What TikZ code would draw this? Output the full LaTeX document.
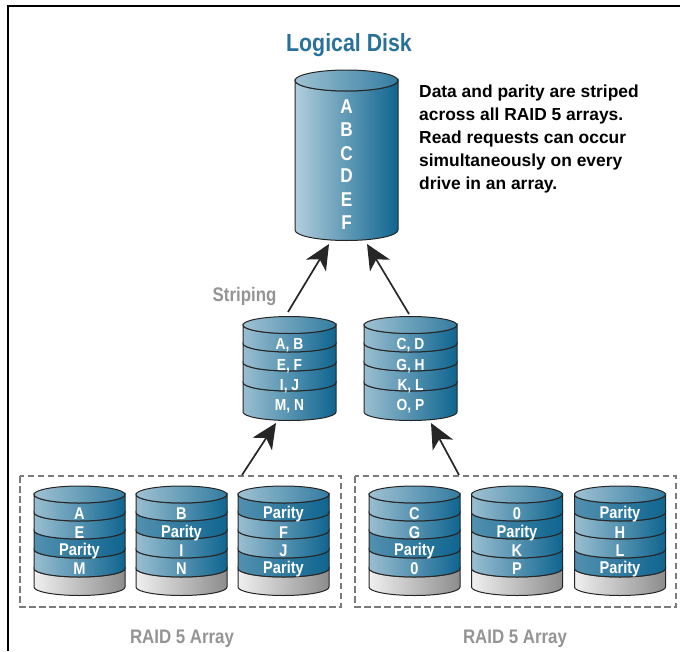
\documentclass[tikz,border=0pt]{standalone}
\usepackage{fontspec}
\setmainfont[FakeStretch=0.86]{Liberation Sans}
\newfontfamily\notefont{Liberation Sans}
\usepackage{tikz}
\usetikzlibrary{arrows.meta}

\definecolor{diskblue}{HTML}{0F6590}
\definecolor{titleblue}{HTML}{2A7199}

\tikzset{
  frameline/.style={line width=2pt,black},
  arraybox/.style={draw=black!52,line width=1.2pt,dash pattern=on 6.5pt off 3.5pt},
  diskedge/.style={draw=black!85,line width=1pt},
  bandtall/.style={diskedge,left color=diskblue!32,right color=diskblue},
  bandplain/.style={diskedge,left color=diskblue!42,right color=diskblue},
  bandparity/.style={diskedge,left color=diskblue!72,right color=diskblue},
  bandspare/.style={diskedge,left color=black!6,right color=black!45},
  bandtop/.style={diskedge,left color=diskblue!40,right color=diskblue!85},
  disklabel/.style={white,font=\bfseries\fontsize{17}{17}\selectfont,inner sep=0pt},
  stripelabel/.style={white,font=\bfseries\fontsize{16}{16}\selectfont,inner sep=0pt},
  biglabel/.style={white,font=\bfseries\fontsize{20}{20}\selectfont,inner sep=0pt},
  graylabel/.style={black!42,font=\bfseries\fontsize{19.6}{19.6}\selectfont,inner sep=0pt},
  feed/.style={line width=1.7pt,black!85,-{Stealth[length=25pt,width=23pt,inset=7pt]}}
}

% cx, rx, ry, y of top edge, y of bottom edge, style
\newcommand{\diskband}[6]{
  \path[#6] (#1-#2,#4) -- (#1-#2,#5)
    arc[start angle=180,end angle=0,x radius=#2,y radius=#3]
    -- (#1+#2,#4) arc[start angle=0,end angle=180,x radius=#2,y radius=#3] -- cycle;
}
% cx, rx, ry, y of top edge
\newcommand{\disktop}[4]{
  \path[bandtop] (#1,#4) ellipse[x radius=#2,y radius=#3];
}

\begin{document}
\begin{tikzpicture}[x=1pt,y=-1pt]
  \useasboundingbox (0,0) rectangle (680,651);

  %frame
  \draw[frameline] (8,651) -- (8,6) -- (680,6);

  %logical disk
  \node[font=\bfseries\fontsize{24.8}{24.8}\selectfont,text=titleblue,inner sep=0pt] (logicalTitle) at (349,45) {Logical Disk};
  \diskband{346.5}{51.5}{10.5}{80.5}{230}{bandtall}
  \disktop{346.5}{51.5}{10.5}{80.5}
  \node[biglabel] (logicalA) at (346.5,107) {A};
  \node[biglabel] (logicalB) at (346.5,130) {B};
  \node[biglabel] (logicalC) at (346.5,154) {C};
  \node[biglabel] (logicalD) at (346.5,176) {D};
  \node[biglabel] (logicalE) at (346.5,200) {E};
  \node[biglabel] (logicalF) at (346.5,223) {F};

  %description
  \node[anchor=north west,align=left,inner sep=0pt,font=\notefont\bfseries\fontsize{17.4}{23}\selectfont] (note) at (419,85)
    {Data and parity are striped\\across all RAID 5 arrays.\\Read requests can occur\\simultaneously on every\\drive in an array.};

  %striping disks
  \node[graylabel] (stripingLabel) at (244.5,296) {Striping};

  \diskband{289.5}{46.5}{8.5}{382.5}{412}{bandplain}
  \diskband{289.5}{46.5}{8.5}{362.5}{382.5}{bandplain}
  \diskband{289.5}{46.5}{8.5}{343.5}{362.5}{bandplain}
  \diskband{289.5}{46.5}{8.5}{325}{343.5}{bandplain}
  \disktop{289.5}{46.5}{8.5}{325}
  \node[stripelabel] (stripeAB) at (289.5,345) {A, B};
  \node[stripelabel] (stripeEF) at (289.5,366) {E, F};
  \node[stripelabel] (stripeIJ) at (289.5,386) {I, J};
  \node[stripelabel] (stripeMN) at (289.5,406) {M, N};

  \diskband{410.5}{46.5}{8.5}{382.5}{412}{bandplain}
  \diskband{410.5}{46.5}{8.5}{362.5}{382.5}{bandplain}
  \diskband{410.5}{46.5}{8.5}{343.5}{362.5}{bandplain}
  \diskband{410.5}{46.5}{8.5}{325}{343.5}{bandplain}
  \disktop{410.5}{46.5}{8.5}{325}
  \node[stripelabel] (stripeCD) at (410.5,345) {C, D};
  \node[stripelabel] (stripeGH) at (410.5,366) {G, H};
  \node[stripelabel] (stripeKL) at (410.5,386) {K, L};
  \node[stripelabel] (stripeOP) at (410.5,406) {O, P};

  %raid arrays, bottom row
  \foreach \id/\cx/\na/\nb/\nc/\nd/\sa/\sb/\sc/\sd in {
    p/79.5/A/E/Parity/M/bandplain/bandplain/bandparity/bandplain,
    q/181.5/B/Parity/I/N/bandplain/bandparity/bandplain/bandplain,
    r/283.5/Parity/F/J/Parity/bandparity/bandplain/bandplain/bandparity,
    s/414.5/C/G/Parity/0/bandplain/bandplain/bandparity/bandplain,
    t/517/0/Parity/K/P/bandplain/bandparity/bandplain/bandplain,
    u/620/Parity/H/L/Parity/bandparity/bandplain/bandplain/bandparity}{
    \diskband{\cx}{45.5}{8.5}{568.5}{587}{bandspare}
    \diskband{\cx}{45.5}{8.5}{549.5}{568.5}{\sd}
    \diskband{\cx}{45.5}{8.5}{530.5}{549.5}{\sc}
    \diskband{\cx}{45.5}{8.5}{512.5}{530.5}{\sb}
    \diskband{\cx}{45.5}{8.5}{494.5}{512.5}{\sa}
    \disktop{\cx}{45.5}{8.5}{494.5}
    \node[disklabel] (row\id a) at (\cx,514) {\na};
    \node[disklabel] (row\id b) at (\cx,533) {\nb};
    \node[disklabel] (row\id c) at (\cx,551) {\nc};
    \node[disklabel] (row\id d) at (\cx,569) {\nd};
  }

  %dashed boxes
  \draw[arraybox] (20,476) rectangle (341,607);
  \draw[arraybox] (355,476) rectangle (676,607);
  \node[graylabel] (arrayLabelA) at (182,639) {RAID 5 Array};
  \node[graylabel] (arrayLabelB) at (515,639) {RAID 5 Array};

  %arrows
  \coordinate (logicalL) at (329,244);
  \coordinate (logicalR) at (367,244);
  \coordinate (stripeTopL) at (288,312);
  \coordinate (stripeTopR) at (409,314);
  \coordinate (stripeBotL) at (276,423);
  \coordinate (stripeBotR) at (431,423);
  \coordinate (boxL) at (242,475);
  \coordinate (boxR) at (459,475);
  \draw[feed] (stripeTopL) -- (logicalL);
  \draw[feed] (stripeTopR) -- (logicalR);
  \draw[feed] (boxL) -- (stripeBotL);
  \draw[feed] (boxR) -- (stripeBotR);
\end{tikzpicture}
\end{document}
